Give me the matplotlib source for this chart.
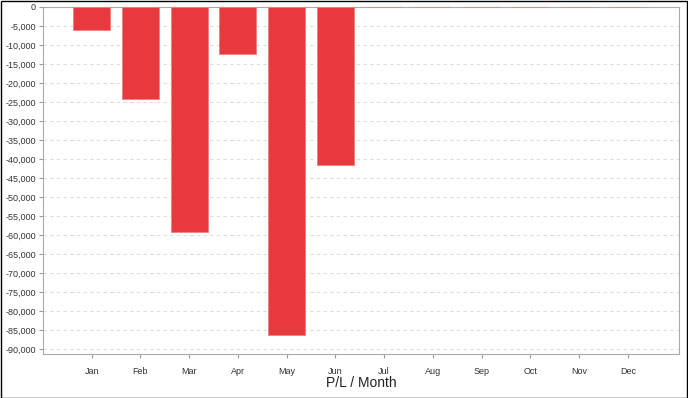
import matplotlib
matplotlib.use("Agg")
import matplotlib.pyplot as plt
from matplotlib.ticker import FuncFormatter, MultipleLocator
from matplotlib.patches import Rectangle

plt.rcParams["font.family"] = ["Liberation Sans", "DejaVu Sans"]

months = ["Jan", "Feb", "Mar", "Apr", "May", "Jun",
          "Jul", "Aug", "Sep", "Oct", "Nov", "Dec"]
pl_values = [-6050, -24200, -59200, -12400, -86300, -41600,
             0, 0, 0, 0, 0, 0]

fig = plt.figure(figsize=(6.88, 3.98), dpi=100)
ax = fig.add_axes([43 / 688, 1 - 354 / 398, (679 - 43) / 688, (354 - 7) / 398])

x = list(range(len(months)))
ax.bar(x, pl_values, width=0.76, color="#E8393E", edgecolor="#F08080", linewidth=0.6, zorder=3)

ax.set_xlim(-1.0, 12.05)
ax.set_ylim(-91300, 0)
ax.set_xticks(x)
ax.set_xticklabels(months)
ax.yaxis.set_major_locator(MultipleLocator(5000))
ax.yaxis.set_major_formatter(FuncFormatter(lambda v, p: f"{int(round(v)):,}"))

ax.grid(axis="y", linestyle=(0, (3, 3)), color="#DDDDDD", linewidth=0.8, zorder=0)
for s in ax.spines.values():
    s.set_color("#AAAAAA")
ax.tick_params(axis="both", labelsize=6.5, colors="#999999", labelcolor="#333333", length=3, width=0.8)
ax.tick_params(axis="y", pad=2)
ax.tick_params(axis="x", pad=6)

# axis title placed directly in figure coords
fig.text(361 / 688, 1 - 383 / 398, "P/L / Month", fontsize=10, color="#222222",
         ha="center", va="center")

fig.patches.append(Rectangle((0.5 / 688, 0.5 / 398), 1 - 1.5 / 688, 1 - 1.5 / 398,
                             transform=fig.transFigure, fill=False,
                             edgecolor="black", linewidth=1.0))

fig.savefig("out.png", dpi=100)
